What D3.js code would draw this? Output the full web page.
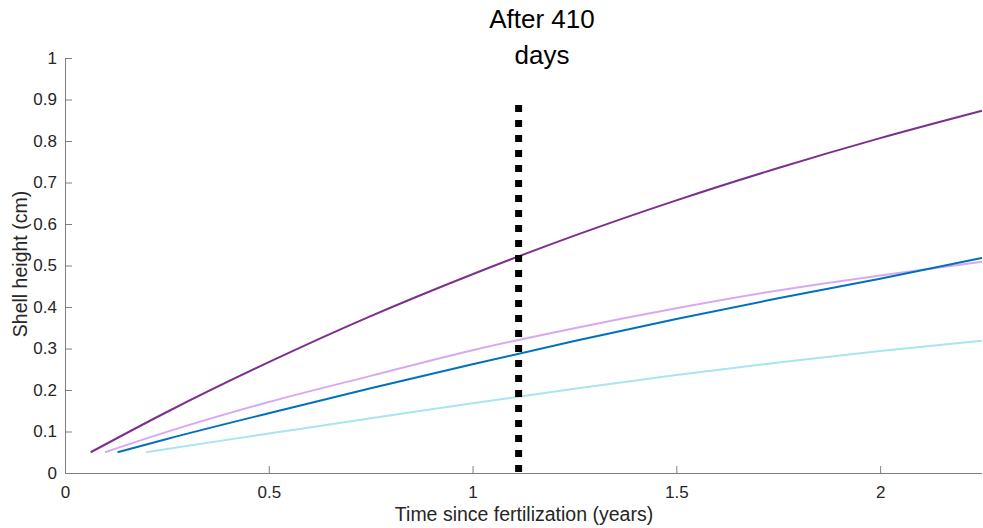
<!DOCTYPE html>
<html>
<head>
<meta charset="utf-8">
<script src="https://cdn.jsdelivr.net/npm/d3@7"></script>
<style>
  html, body { margin: 0; padding: 0; background: #fff; }
  svg { display: block; font-family: "Liberation Sans", Arial, Helvetica, sans-serif; }
</style>
</head>
<body>
<svg id="chart" width="983" height="528"></svg>
<script>
// ---- data ----
const xTicks = [0, 0.5, 1, 1.5, 2];
const yTicks = [0, 0.1, 0.2, 0.3, 0.4, 0.5, 0.6, 0.7, 0.8, 0.9, 1];

const purpleT = [0.063, 0.25, 0.5, 0.75, 1.0, 1.25, 1.5, 1.75, 2.0, 2.25];
const purpleH = [0.05, 0.147, 0.267, 0.378, 0.479, 0.572, 0.657, 0.735, 0.807, 0.873];

const lilacT = [0.098, 0.25, 0.5, 0.75, 1.0, 1.25, 1.5, 1.75, 2.0, 2.25];
const lilacH = [0.05, 0.099, 0.171, 0.234, 0.296, 0.349, 0.397, 0.440, 0.476, 0.509];

const blueT = [0.129, 0.25, 0.5, 0.75, 1.0, 1.25, 1.5, 1.75, 2.0, 2.25];
const blueH = [0.05, 0.082, 0.144, 0.204, 0.262, 0.318, 0.371, 0.421, 0.468, 0.518];

const cyanT = [0.199, 0.25, 0.5, 0.75, 1.0, 1.25, 1.5, 1.75, 2.0, 2.25];
const cyanH = [0.05, 0.058, 0.095, 0.132, 0.168, 0.203, 0.236, 0.266, 0.294, 0.319];

const markerT = 1.113;          // "After 410 days"
const markerRange = [0, 0.9];
const titleLines = ["After 410", "days"];

const seriesList = [
  { t: lilacT, h: lilacH, color: "#d7a9f3", w: 2 },
  { t: cyanT, h: cyanH, color: "#a9e4f2", w: 2 },
  { t: blueT, h: blueH, color: "#0072bd", w: 2 },
  { t: purpleT, h: purpleH, color: "#7e2f8e", w: 2 }
];

// ---- layout ----
const svg = d3.select("#chart");
const x = d3.scaleLinear().domain([0, 2.25]).range([65, 982]);
const y = d3.scaleLinear().domain([0, 1]).range([473, 58]);

const axisColor = "#808080";
const textColor = "#262626";

// x axis
const gx = svg.append("g").attr("transform", `translate(0,${y(0)})`)
  .call(d3.axisBottom(x).tickValues(xTicks).tickFormat(d3.format("")).tickSize(-7).tickPadding(13));
gx.select(".domain").attr("stroke", axisColor).attr("d", `M${x(0)},0.5H${x(2.25)}`);
gx.selectAll(".tick line").attr("stroke", axisColor);
gx.selectAll(".tick text").attr("fill", textColor).attr("font-size", 17).attr("font-family", "Liberation Sans, Arial, sans-serif");

// y axis
const gy = svg.append("g").attr("transform", `translate(${x(0)},0)`)
  .call(d3.axisLeft(y).tickValues(yTicks).tickFormat(d3.format("")).tickSize(-7).tickPadding(8));
gy.select(".domain").attr("stroke", axisColor).attr("d", `M0.5,${y(1)}V${y(0)}`);
gy.selectAll(".tick line").attr("stroke", axisColor);
gy.selectAll(".tick text").attr("fill", textColor).attr("font-size", 17).attr("font-family", "Liberation Sans, Arial, sans-serif");

// axis labels
svg.append("text")
  .attr("x", 524).attr("y", 521)
  .attr("text-anchor", "middle").attr("font-size", 19.5).attr("fill", textColor)
  .text("Time since fertilization (years)");

svg.append("text")
  .attr("transform", "translate(27,264) rotate(-90)")
  .attr("text-anchor", "middle").attr("font-size", 19.5).attr("fill", textColor)
  .text("Shell height (cm)");

// curves
const line = d3.line().curve(d3.curveMonotoneX);
seriesList.forEach(s => {
  const pts = s.t.map((t, i) => [x(t), y(s.h[i])]);
  svg.append("path")
    .attr("d", line(pts))
    .attr("fill", "none")
    .attr("stroke", s.color)
    .attr("stroke-width", s.w);
});

// dotted marker line
svg.append("line")
  .attr("x1", x(markerT)).attr("x2", x(markerT))
  .attr("y1", y(markerRange[0]) - 1).attr("y2", y(markerRange[1]))
  .attr("stroke", "#000")
  .attr("stroke-width", 7)
  .attr("stroke-dasharray", "7,8");

// title annotation
svg.append("text")
  .attr("x", 542).attr("y", 28)
  .attr("text-anchor", "middle").attr("font-size", 26).attr("fill", "#000")
  .text(titleLines[0]);
svg.append("text")
  .attr("x", 542).attr("y", 64)
  .attr("text-anchor", "middle").attr("font-size", 26).attr("fill", "#000")
  .text(titleLines[1]);
</script>
</body>
</html>
